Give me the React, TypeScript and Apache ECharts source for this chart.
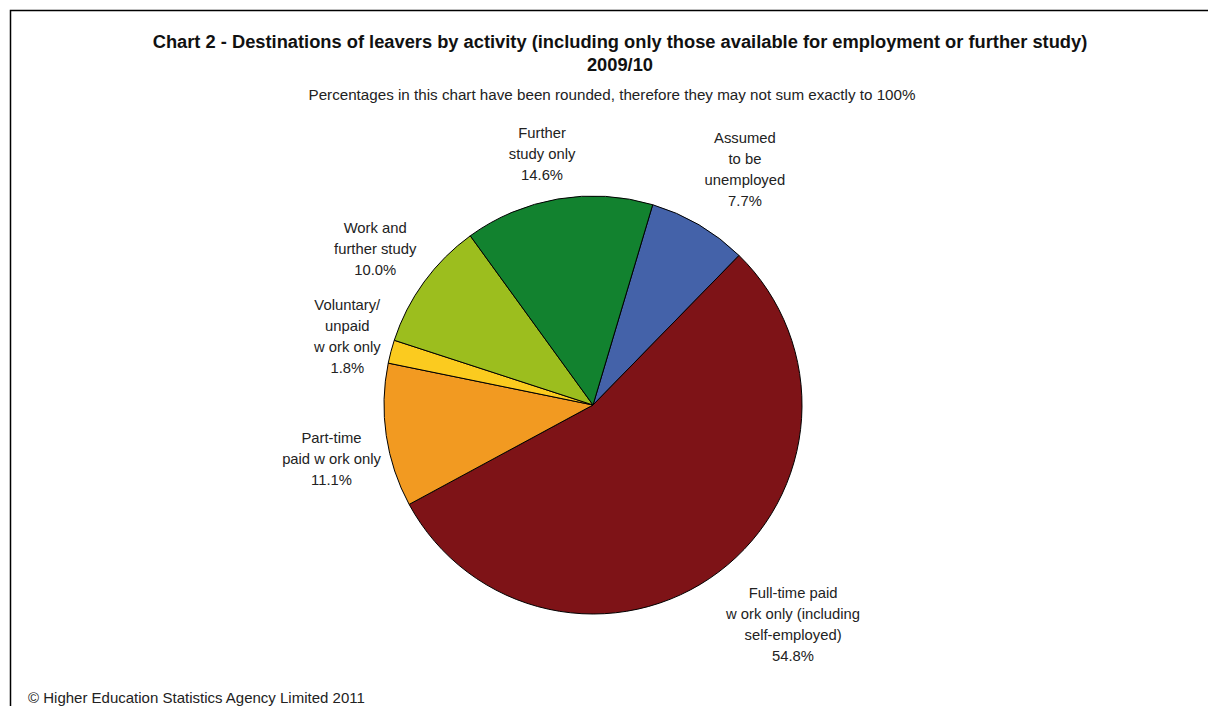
import React, { useEffect, useRef } from "react";
import * as echarts from "echarts";

const categories = [
  "Assumed\nto be\nunemployed",
  "Full-time paid\nw ork only (including\nself-employed)",
  "Part-time\npaid w ork only",
  "Voluntary/\nunpaid\nw ork only",
  "Work and\nfurther study",
  "Further\nstudy only",
];
const values = [7.7, 54.8, 11.1, 1.8, 10.0, 14.6];
const colors = ["#4462A9", "#7E1317", "#F29A21", "#FBCB1F", "#9CBE1E", "#12822F"];
const labelAngleShift = [2.4, -5.3, -3.2, 0.7, -0.4, -1.8];
const labelRadius = [280, 297, 267, 255, 268, 256];

const TITLE = "Chart 2 - Destinations of leavers by activity (including only those available for employment or further study)";
const TITLE2 = "2009/10";
const SUBTITLE = "Percentages in this chart have been rounded, therefore they may not sum exactly to 100%";
const FOOTER = "\u00A9 Higher Education Statistics Agency Limited 2011";

const CX = 593;
const CY = 405;
const R = 209;
const START_FROM_TOP = 16.6; // degrees clockwise from 12 o'clock
const FONT = "'Liberation Sans', Arial, sans-serif";

export default function App() {
  const ref = useRef<HTMLDivElement>(null);
  useEffect(() => {
    document.body.style.margin = "0";
    const chart = echarts.init(ref.current!, null, { renderer: "svg" });
    const total = values.reduce((a, b) => a + b, 0);
    const mids: number[] = [];
    let acc = START_FROM_TOP;
    values.forEach((v) => {
      const span = (v / total) * 360;
      mids.push(acc + span / 2);
      acc += span;
    });
    chart.setOption({
      animation: false,
      backgroundColor: "#ffffff",
      graphic: [
        {
          type: "rect",
          shape: { x: 10.5, y: 10.5, width: 1400, height: 900 },
          style: { fill: "none", stroke: "#000", lineWidth: 1.5 },
          silent: true,
        },
        {
          type: "text",
          x: 620,
          y: 41.5,
          style: { text: TITLE, align: "center", verticalAlign: "middle", fontSize: 18.3, fontWeight: "bold", fontFamily: FONT, fill: "#111" },
        },
        {
          type: "text",
          x: 620,
          y: 64,
          style: { text: TITLE2, align: "center", verticalAlign: "middle", fontSize: 18.3, fontWeight: "bold", fontFamily: FONT, fill: "#111" },
        },
        {
          type: "text",
          x: 612,
          y: 94,
          style: { text: SUBTITLE, align: "center", verticalAlign: "middle", fontSize: 15.2, fontFamily: FONT, fill: "#222" },
        },
        {
          type: "text",
          x: 28,
          y: 697,
          style: { text: FOOTER, align: "left", verticalAlign: "middle", fontSize: 15, fontFamily: FONT, fill: "#222" },
        },
      ],
      series: [
        {
          type: "pie",
          center: [CX, CY],
          radius: R,
          startAngle: 90 - START_FROM_TOP,
          clockwise: true,
          avoidLabelOverlap: false,
          data: categories.map((name, i) => ({
            name,
            value: values[i],
            itemStyle: { color: colors[i] },
          })),
          itemStyle: { borderColor: "#000", borderWidth: 1 },
          label: {
            show: true,
            position: "outside",
            formatter: (p: any) => `${p.name}\n${p.value.toFixed(1)}%`,
            fontSize: 14.8,
            lineHeight: 21,
            fontFamily: FONT,
            color: "#222",
            align: "center",
          },
          labelLine: { show: false },
          labelLayout: (params: any) => {
            const i = params.dataIndex;
            const a = ((mids[i] + labelAngleShift[i]) * Math.PI) / 180;
            return {
              x: CX + labelRadius[i] * Math.sin(a),
              y: CY - labelRadius[i] * Math.cos(a),
              align: "center",
              verticalAlign: "middle",
            };
          },
          emphasis: { disabled: true },
        },
      ],
    });
    return () => chart.dispose();
  }, []);
  return <div ref={ref} style={{ position: "absolute", left: 0, top: 0, width: 1208, height: 706 }} />;
}
